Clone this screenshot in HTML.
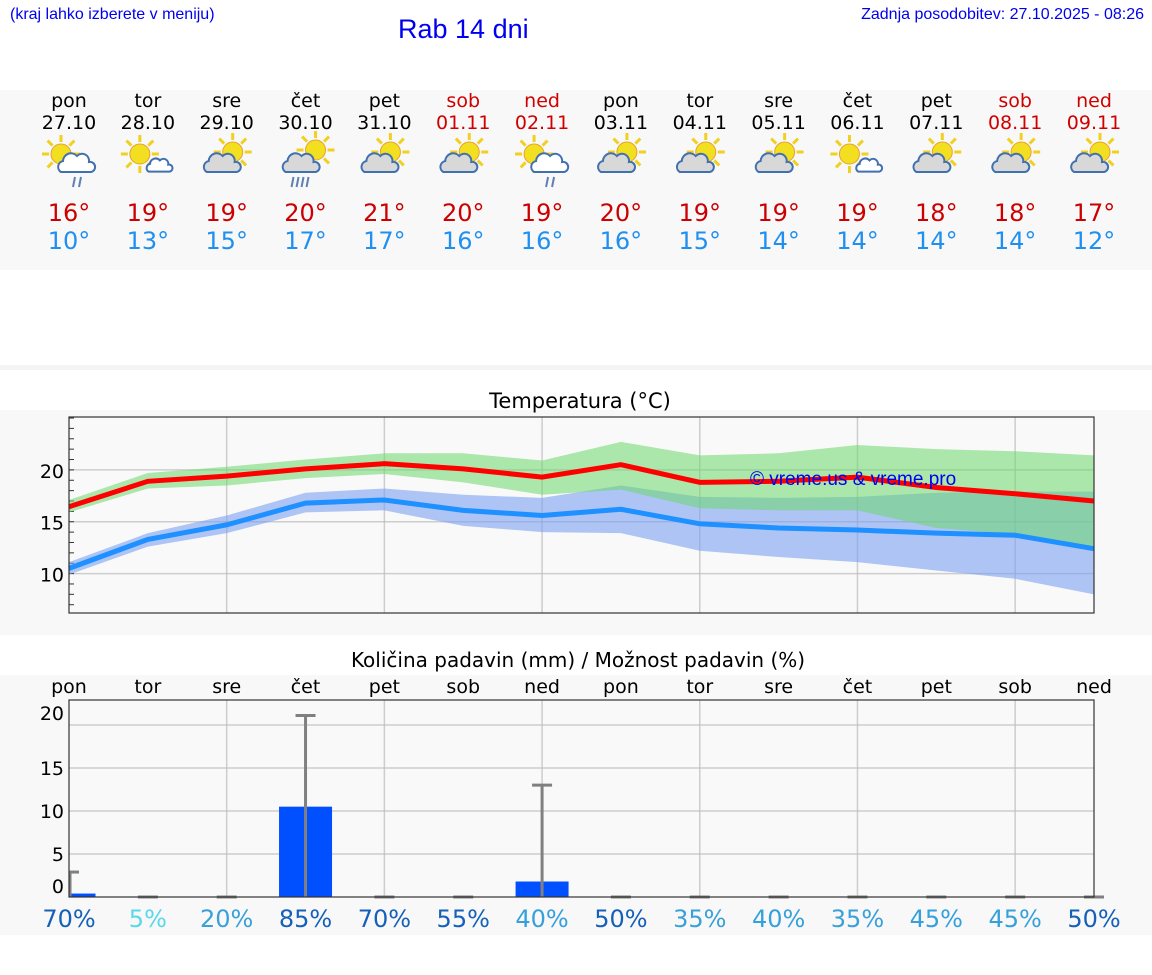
<!DOCTYPE html>
<html><head><meta charset="utf-8">
<style>
body{margin:0;width:1152px;height:975px;background:#fff;font-family:"DejaVu Sans","Liberation Sans",sans-serif;position:relative;overflow:hidden}
.a{position:absolute}
</style></head><body>
<div class="a" style="left:10px;top:6px;font:16px 'Liberation Sans',sans-serif;color:#0000ee">(kraj lahko izberete v meniju)</div>
<div class="a" style="left:398px;top:14px;font:27px 'Liberation Sans',sans-serif;color:#0000ee">Rab 14 dni</div>
<div class="a" style="right:8px;top:6px;font:16px 'Liberation Sans',sans-serif;color:#0000ee">Zadnja posodobitev: 27.10.2025 - 08:26</div>
<svg class="a" style="left:0;top:0" width="1152" height="975" id="svg"></svg>
<script>
const days=["pon","tor","sre","čet","pet","sob","ned","pon","tor","sre","čet","pet","sob","ned"];
const dates=["27.10","28.10","29.10","30.10","31.10","01.11","02.11","03.11","04.11","05.11","06.11","07.11","08.11","09.11"];
const weekend=[0,0,0,0,0,1,1,0,0,0,0,0,1,1];
const iconType=[0,1,2,3,2,2,0,2,2,2,1,2,2,2];
const maxLabel=[16,19,19,20,21,20,19,20,19,19,19,18,18,17];
const minLabel=[10,13,15,17,17,16,16,16,15,14,14,14,14,12];
const tMax=[16.45,18.9,19.4,20.1,20.6,20.1,19.3,20.5,18.8,18.9,19.3,18.3,17.7,17.0];
const tMaxHi=[17.1,19.7,20.3,21.0,21.6,21.6,20.9,22.7,21.4,21.6,22.4,22.0,21.8,21.4];
const tMaxLo=[15.9,18.2,18.5,19.2,19.6,18.8,17.6,18.1,16.3,16.1,16.1,14.4,13.8,12.5];
const tMin=[10.5,13.3,14.7,16.8,17.1,16.1,15.6,16.2,14.8,14.4,14.2,13.9,13.7,12.4];
const tMinHi=[11.1,13.9,15.6,17.8,18.2,17.6,17.3,18.5,17.4,17.3,17.4,17.8,17.9,17.9];
const tMinLo=[9.9,12.6,13.9,15.9,16.1,14.6,14.0,13.9,12.2,11.6,11.1,10.3,9.5,8.0];
const tTicks=[10,15,20];
const precip=[0.4,0,0,10.5,0,0,1.8,0,0,0,0,0,0,0];
const precipMax=[2.9,0,0,21.1,0,0,13,0,0,0,0,0,0,0];
const pTicks=[0,5,10,15,20];
const chance=[70,5,20,85,70,55,40,50,35,40,35,45,45,50];

const NS="http://www.w3.org/2000/svg",svg=document.getElementById('svg');
function mk(t,at,p){const e=document.createElementNS(NS,t);for(const k in at)e.setAttribute(k,at[k]);(p||svg).appendChild(e);return e;}
const X=i=>69+i*(1094-69)/13;
const TY=v=>613-(v-6.2)*(613-417)/(25.1-6.2);
const PY=v=>897-v*(897-700)/22.9;

let e;
e=mk('rect',{x:0,y:90,width:1152,height:180,fill:'#f8f8f8'});
e=mk('rect',{x:0,y:365,width:1152,height:5,fill:'#f4f4f4'});
e=mk('rect',{x:0,y:410,width:1152,height:225,fill:'#f8f8f8'});
e=mk('rect',{x:0,y:675,width:1152,height:260,fill:'#f8f8f8'});

function txt(x,y,s,sz,fill,name,anchor){const t=mk('text',{x:x,y:y,'font-size':sz,fill:fill,'text-anchor':anchor||'middle','font-family':'DejaVu Sans, sans-serif'});t.textContent=s;return t;}

function icon(cx,cy,type){
  const g=mk('g',{});
  let sx=cx-8,sy=cy-6;
  if(type==2){sx=cx+6;sy=cy-8;}
  if(type==3){sx=cx+10;sy=cy-10;}
  for(let k=0;k<8;k++){const a=k*Math.PI/4;mk('line',{x1:sx+Math.cos(a)*12,y1:sy+Math.sin(a)*12,x2:sx+Math.cos(a)*19,y2:sy+Math.sin(a)*19,stroke:'#f0d020','stroke-width':3},g);}
  mk('circle',{cx:sx,cy:sy,r:10,fill:'#f2e020',stroke:'#e8a030','stroke-width':1},g);
  let ccx=cx+8,ccy=cy+4,s=1,fill='#fff';
  if(type==1){ccx=cx+12;ccy=cy+6;s=0.7;}
  if(type==2||type==3){ccx=cx-4;ccy=cy+4;fill='#d8d8d8';}
  mk('path',{d:`M${ccx-16*s},${ccy+8*s} a${6*s},${6*s} 0 0 1 ${2*s},${-11*s} a${8*s},${8*s} 0 0 1 ${14*s},${-5*s} a${7*s},${7*s} 0 0 1 ${12*s},${6*s} a${5*s},${5*s} 0 0 1 ${2*s},${10*s} z`,fill:fill,stroke:'#4070b0','stroke-width':2},g);
  if(type==0){for(let k=0;k<2;k++)mk('line',{x1:ccx-2+k*6,y1:ccy+13,x2:ccx-4+k*6,y2:ccy+23,stroke:'#6080b0','stroke-width':2},g);}
  if(type==3){for(let k=0;k<4;k++)mk('line',{x1:ccx-8+k*5,y1:ccy+13,x2:ccx-10+k*5,y2:ccy+23,stroke:'#6080b0','stroke-width':2},g);}
}
for(let i=0;i<14;i++){
  const x=X(i);
  txt(x,107,days[i],19,weekend[i]?'#d00000':'#000','day-name');
  txt(x,129,dates[i],19,weekend[i]?'#d00000':'#000','day-date');
  icon(x,160,iconType[i]);
  txt(x,221,maxLabel[i]+'°',24,'#cc0000','max-temp');
  txt(x,249,minLabel[i]+'°',24,'#2090f0','min-temp');
}

txt(580,408,'Temperatura (°C)',21,'#000','temperature-title');
mk('rect',{x:69,y:417,width:1025,height:196,fill:'#f9f9f9'});
for(let i=2;i<13;i+=2)mk('line',{x1:X(i),y1:417,x2:X(i),y2:613,stroke:'#bbb','stroke-width':1.5,opacity:0.7});
tTicks.forEach(v=>{mk('line',{x1:69,y1:TY(v),x2:1094,y2:TY(v),stroke:'#bbb','stroke-width':1.5,opacity:0.7});txt(64,TY(v)+8,v,19,'#000','temp-tick','end');});
for(let v=7;v<=25;v++)mk('line',{x1:69,y1:TY(v),x2:74,y2:TY(v),stroke:'#333','stroke-width':1});
function band(hi,lo,fill,op,name){let d='';hi.forEach((v,i)=>d+=(i?'L':'M')+X(i)+','+TY(v));for(let i=lo.length-1;i>=0;i--)d+='L'+X(i)+','+TY(lo[i]);const p=mk('path',{d:d+'Z',fill:fill,opacity:op});}
function line(vals,col,name){const p=mk('polyline',{points:vals.map((v,i)=>X(i)+','+TY(v)).join(' '),fill:'none',stroke:col,'stroke-width':5});}
band(tMinHi,tMinLo,'#7aa0f0',0.6,'min-range-band');
band(tMaxHi,tMaxLo,'#6cd86c',0.55,'max-range-band');
line(tMax,'#ff0000','max-temp-line');
line(tMin,'#1e90ff','min-temp-line');
txt(750,485,'© vreme.us & vreme.pro',19,'#0000ee','watermark','start').setAttribute('font-family','Liberation Sans, sans-serif');
e=mk('rect',{x:69,y:417,width:1025,height:196,fill:'none',stroke:'#333','stroke-width':1.2});

txt(578,667,'Količina padavin (mm) / Možnost padavin (%)',20,'#000','precip-title');
for(let i=0;i<14;i++)txt(X(i),693,days[i],19,'#000','precip-day-name');
mk('rect',{x:69,y:700,width:1025,height:197,fill:'#f9f9f9'});
for(let i=2;i<13;i+=2)mk('line',{x1:X(i),y1:700,x2:X(i),y2:897,stroke:'#bbb','stroke-width':1.5,opacity:0.7});
pTicks.forEach(v=>{if(v>0)mk('line',{x1:69,y1:PY(v),x2:1094,y2:PY(v),stroke:'#bbb','stroke-width':1.5,opacity:0.7});const dy=v==20?-5:(v==0?-4:7);txt(64,PY(v)+dy,v,19,'#000','precip-tick','end');});
for(let i=0;i<14;i++){
  const x=X(i);
  if(precip[i]>0){const x0=Math.max(69,x-26.5),x1=x+26.5;const r=mk('rect',{x:x0,y:PY(precip[i]),width:x1-x0,height:PY(0)-PY(precip[i]),fill:'#0050ff'});}
  const x0=Math.max(69,x-10);
  mk('line',{x1:x0,y1:PY(precipMax[i]),x2:x+10,y2:PY(precipMax[i]),stroke:'#808080','stroke-width':3});
  if(precipMax[i]>0){const l=mk('line',{x1:Math.max(70,x),y1:PY(precipMax[i]),x2:Math.max(70,x),y2:PY(0),stroke:'#808080','stroke-width':3});}
  const c=chance[i];const col=c>=50?'#1560b8':(c>=40?'#35a0dc':(c>=20?'#3aa0d8':'#5ad8ea'));
  txt(x,927,c+'%',24,col,'precip-chance');
}
e=mk('rect',{x:69,y:700,width:1025,height:197,fill:'none',stroke:'#333','stroke-width':1.2});
</script>
</body></html>
